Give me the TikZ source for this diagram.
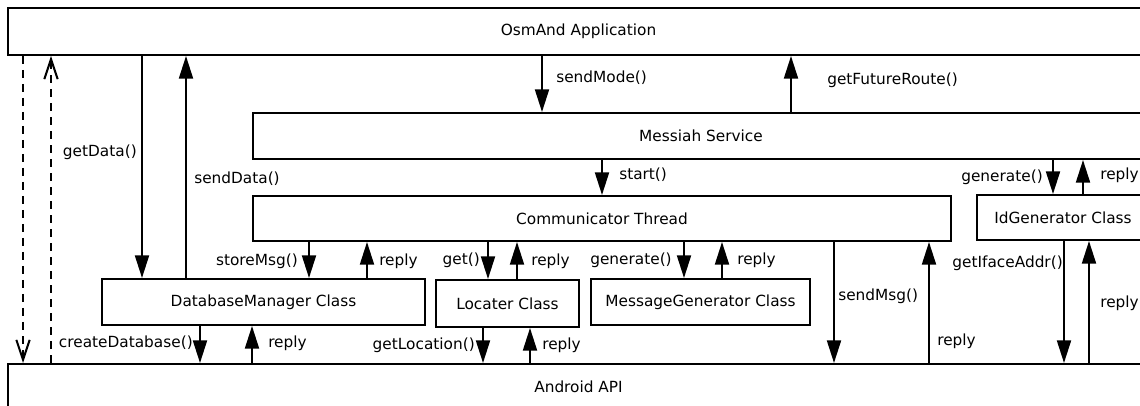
\documentclass[tikz,border=0pt]{standalone}
\usepackage{fontspec}
\setmainfont{DejaVu Sans}
\usetikzlibrary{arrows.meta}
\begin{document}
\begin{tikzpicture}[x=0.75pt,y=-0.75pt,
  every node/.style={font=\fontsize{11.5}{13.8}\selectfont},
  box/.style 2 args={draw,line width=1.5pt,minimum width=#1*0.75pt,minimum height=#2*0.75pt,inner sep=0pt},
  arr/.style={line width=1.5pt,-{Triangle[length=17pt,width=10.5pt]}},
  dsh/.style={line width=1.5pt,dash pattern=on 6pt off 4.5pt,-{Straight Barb[length=15pt,width=10pt,line width=1.5pt]}},
  labl/.style={anchor=west,inner sep=0pt},
  labr/.style={anchor=east,inner sep=0pt}]
\useasboundingbox (0,0) rectangle (1140,406);
\clip (0,0) rectangle (1140,406);
\fill[white] (0,0) rectangle (1140,406);
% boxes
\node[box={1141}{47}] (osm) at (578.5,31.5) {OsmAnd Application};
\node[box={896}{46}] (mes) at (701,136) {Messiah Service};
\node[box={698}{45}] (com) at (602,218.5) {Communicator Thread};
\node[box={172}{45}] (idg) at (1063,217.5) {IdGenerator Class};
\node[box={323}{46}] (db) at (263.5,302) {DatabaseManager Class};
\node[box={143}{47}] (loc) at (507.5,303.5) {Locater Class};
\node[box={219}{46}] (mg) at (700.5,302) {MessageGenerator Class};
\node[box={1141}{46}] (and) at (578.5,387) {Android API};
% dashed
\draw[dsh] (osm.south -| 23,0) -- (and.north -| 23,0);
\draw[dsh] (and.north -| 51,0) -- (osm.south -| 51,0);
% arrows
\draw[arr] (osm.south -| 142,0) -- (db.north -| 142,0);
\draw[arr] (db.north -| 186,0) -- (osm.south -| 186,0);
\draw[arr] (osm.south -| 542,0) -- (mes.north -| 542,0);
\draw[arr] (mes.north -| 791,0) -- (osm.south -| 791,0);
\draw[arr] (mes.south -| 602,0) -- (com.north -| 602,0);
\draw[arr] (mes.south -| 1053,0) -- (idg.north -| 1053,0);
\draw[arr] (idg.north -| 1083,0) -- (mes.south -| 1083,0);
\draw[arr] (com.south -| 309,0) -- (db.north -| 309,0);
\draw[arr] (db.north -| 367,0) -- (com.south -| 367,0);
\draw[arr] (com.south -| 488,0) -- (loc.north -| 488,0);
\draw[arr] (loc.north -| 517,0) -- (com.south -| 517,0);
\draw[arr] (com.south -| 684,0) -- (mg.north -| 684,0);
\draw[arr] (mg.north -| 722,0) -- (com.south -| 722,0);
\draw[arr] (db.south -| 200,0) -- (and.north -| 200,0);
\draw[arr] (and.north -| 252,0) -- (db.south -| 252,0);
\draw[arr] (loc.south -| 483,0) -- (and.north -| 483,0);
\draw[arr] (and.north -| 530,0) -- (loc.south -| 530,0);
\draw[arr] (com.south -| 834,0) -- (and.north -| 834,0);
\draw[arr] (and.north -| 929,0) -- (com.south -| 929,0);
\draw[arr] (idg.south -| 1064,0) -- (and.north -| 1064,0);
\draw[arr] (and.north -| 1089,0) -- (idg.south -| 1089,0);
% labels
\node[labr] (l1) at (137,152) {getData()};
\node[labl] (l2) at (194,179) {sendData()};
\node[labl] (l3) at (556,78) {sendMode()};
\node[labl] (l4) at (827,80) {getFutureRoute()};
\node[labl] (l5) at (619,175) {start()};
\node[labr] (l6) at (1043,177) {generate()};
\node[labl] (l7) at (1100,175) {reply};
\node[labr] (l8) at (298,261) {storeMsg()};
\node[labl] (l9) at (379,261) {reply};
\node[labr] (l10) at (480,260) {get()};
\node[labl] (l11) at (531,261) {reply};
\node[labr] (l12) at (672,260) {generate()};
\node[labl] (l13) at (737,260) {reply};
\node[labr] (l14) at (193,343) {createDatabase()};
\node[labl] (l15) at (268,343) {reply};
\node[labr] (l16) at (475,345) {getLocation()};
\node[labl] (l17) at (542,345) {reply};
\node[labl] (l18) at (838,296) {sendMsg()};
\node[labl] (l19) at (937,341) {reply};
\node[labr] (l20) at (1063,263) {getIfaceAddr()};
\node[labl] (l21) at (1100,303) {reply};
\end{tikzpicture}
\end{document}
